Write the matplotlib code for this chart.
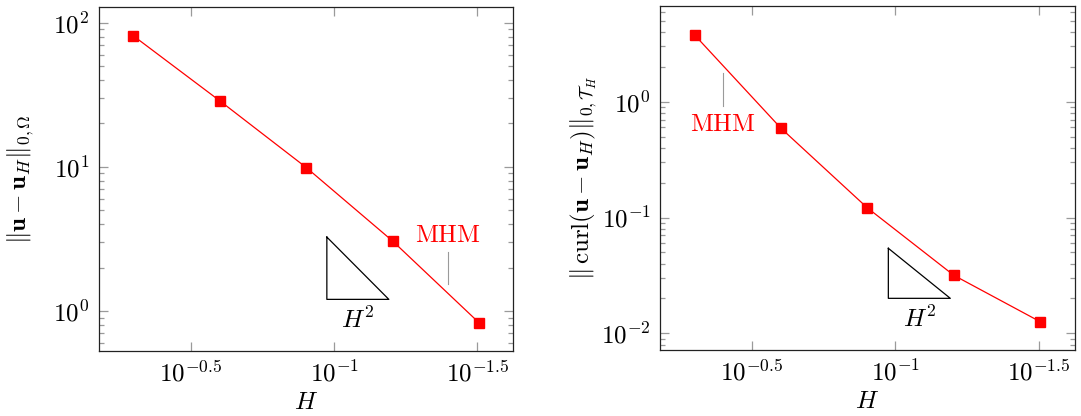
import numpy as np
import matplotlib
matplotlib.use("Agg")
import matplotlib.pyplot as plt
from matplotlib.ticker import FixedLocator, FixedFormatter, LogLocator, NullFormatter

plt.rcParams["mathtext.fontset"] = "cm"
plt.rcParams["font.family"] = ["DejaVu Serif"]

# mesh sizes H = 1/2 ... 1/32
H = [1 / 2, 1 / 4, 1 / 8, 1 / 16, 1 / 32]
err_l2 = [81.0, 28.7, 9.9, 3.06, 0.83]
err_curl = [3.76, 0.589, 0.121, 0.0317, 0.0126]

xtick_vals = [10 ** -0.5, 10 ** -1, 10 ** -1.5]
xtick_labels = [r"$10^{-0.5}$", r"$10^{-1}$", r"$10^{-1.5}$"]
ytick_vals_l = [1, 10, 100]
ytick_labels_l = [r"$10^{0}$", r"$10^{1}$", r"$10^{2}$"]
ytick_vals_r = [0.01, 0.1, 1]
ytick_labels_r = [r"$10^{-2}$", r"$10^{-1}$", r"$10^{0}$"]

ylabel_l = r"$\|\mathbf{u}-\mathbf{u}_H\|_{0,\mathit{\Omega}}$"
ylabel_r = r"$\|\,\mathrm{curl}(\mathbf{u}-\mathbf{u}_H)\|_{0,\mathcal{T}_H}$"

FS = 18


def style_axes(ax, yvals, ylabels, ylim):
    ax.set_xscale("log")
    ax.set_yscale("log")
    ax.set_xlim(10 ** -0.181, 10 ** -1.625)
    ax.set_ylim(*ylim)
    ax.xaxis.set_major_locator(FixedLocator(xtick_vals))
    ax.xaxis.set_major_formatter(FixedFormatter(xtick_labels))
    ax.xaxis.set_minor_locator(FixedLocator([]))
    ax.yaxis.set_major_locator(FixedLocator(yvals))
    ax.yaxis.set_major_formatter(FixedFormatter(ylabels))
    ax.yaxis.set_minor_locator(LogLocator(base=10, subs=np.arange(2, 10)))
    ax.yaxis.set_minor_formatter(NullFormatter())
    ax.tick_params(which="both", direction="in", top=True, right=True,
                   colors="#9a9a9a", labelcolor="black", labelsize=FS, pad=7)
    ax.tick_params(which="major", length=6.5, width=0.9)
    ax.tick_params(which="minor", length=3.6, width=0.9)
    for s in ax.spines.values():
        s.set_color("#222222")
        s.set_linewidth(0.9)
    ax.set_xlabel(r"$H$", fontsize=FS)
    ax.xaxis.set_label_coords(0.5, -0.115)


def slope_triangle(ax, x0, y0, dx, slope, label_y):
    x1 = x0 * 10 ** -dx
    y1 = y0 * 10 ** (slope * dx)
    ax.plot([x0, x0, x1, x0], [y1, y0, y0, y1], color="black", lw=0.9)
    xm = 10 ** (0.5 * (np.log10(x0) + np.log10(x1)))
    ax.text(xm, label_y, r"$H^2$", fontsize=FS, ha="center", va="center")


def pin_label(ax, x, y_text, y_a, y_b):
    ax.text(x, y_text, r"$\mathrm{MHM}$", color="red", fontsize=FS,
            ha="center", va="center")
    ax.plot([x, x], [y_a, y_b], color="#9a9a9a", lw=0.8)


fig = plt.figure(figsize=(10.81, 4.16), dpi=100)
ax1 = fig.add_axes([0.0916, 0.1563, 0.3833, 0.8276])
ax2 = fig.add_axes([0.6108, 0.1587, 0.3832, 0.8276])

# left: L2 error
ax1.plot(H, err_l2, color="red", lw=0.9, marker="s", ms=7, mec="red", mfc="red")
style_axes(ax1, ytick_vals_l, ytick_labels_l, (10 ** -0.277, 10 ** 2.111))
ax1.set_ylabel(ylabel_l, fontsize=FS)
ax1.yaxis.set_label_coords(-0.152, 0.5)
slope_triangle(ax1, 10 ** -0.975, 10 ** 0.081, 0.216, 2, 10 ** -0.062)
pin_label(ax1, 10 ** -1.397, 10 ** 0.527, 10 ** 0.411, 10 ** 0.187)

# right: curl error
ax2.plot(H, err_curl, color="red", lw=0.9, marker="s", ms=7, mec="red", mfc="red")
style_axes(ax2, ytick_vals_r, ytick_labels_r, (10 ** -2.144, 10 ** 0.829))
ax2.set_ylabel(ylabel_r, fontsize=FS)
ax2.yaxis.set_label_coords(-0.149, 0.5)
slope_triangle(ax2, 10 ** -0.976, 10 ** -1.698, 0.216, 2, 10 ** -1.879)
pin_label(ax2, 10 ** -0.398, 10 ** -0.193, 10 ** 0.25, 10 ** -0.037)

fig.savefig("out.png", dpi=100)
